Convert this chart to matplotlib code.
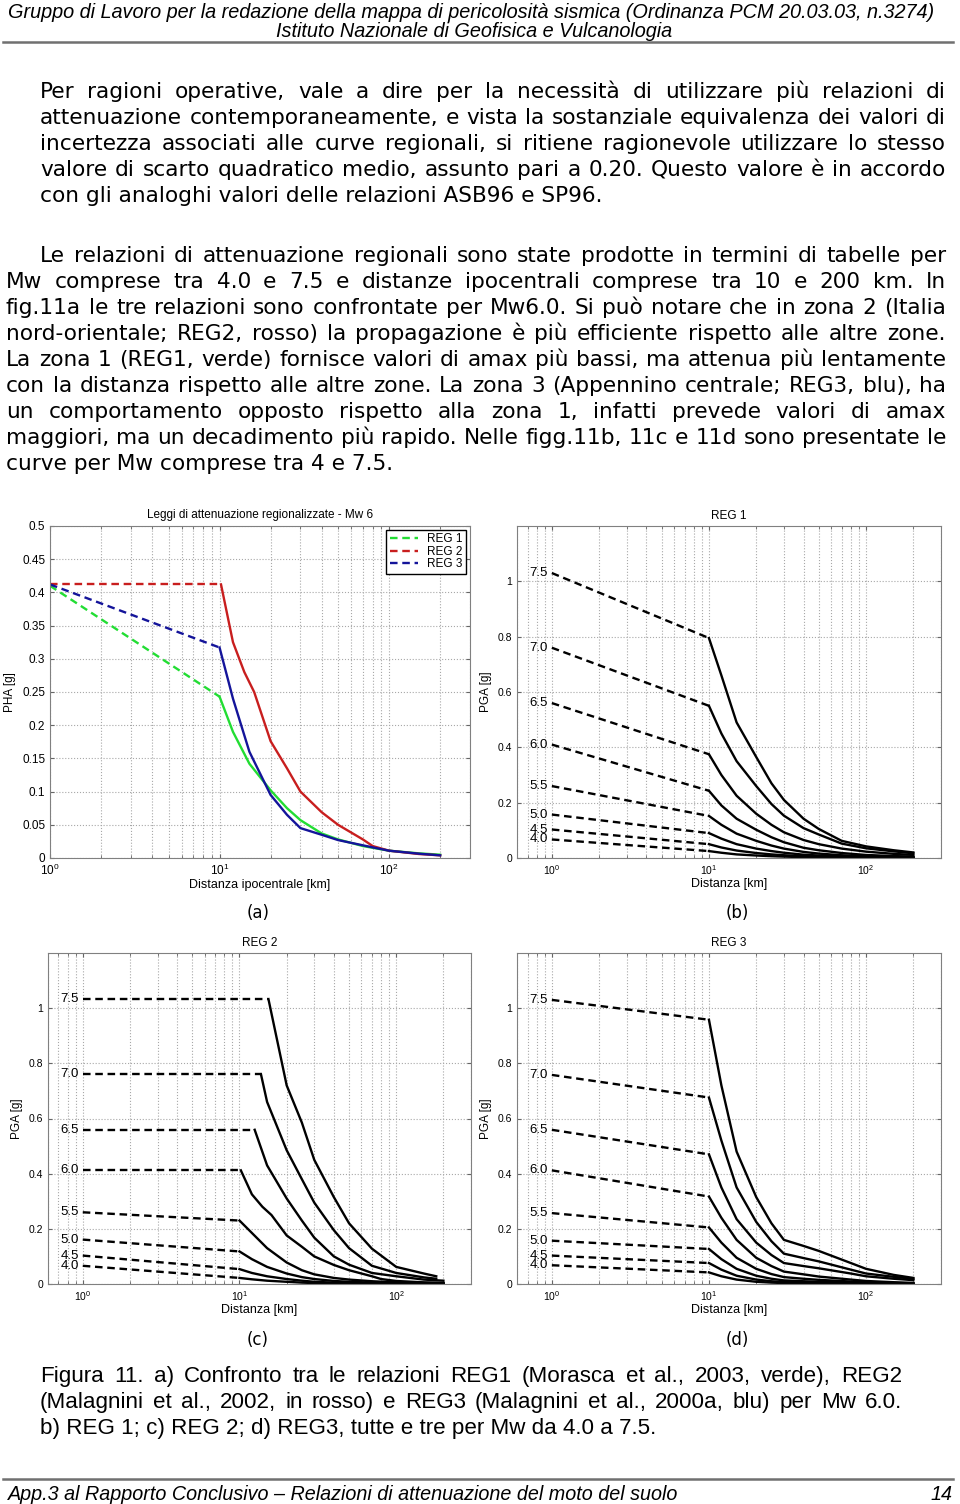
import matplotlib
matplotlib.use("Agg")
import matplotlib.pyplot as plt
import numpy as np
from matplotlib import font_manager
from matplotlib.ticker import LogLocator, NullFormatter

# ---------------- dati ----------------
MAGS = ["7.5", "7.0", "6.5", "6.0", "5.5", "5.0", "4.5", "4.0"]

# REG 1 (Morasca et al.)
REG1_START = [1.03, 0.76, 0.56, 0.41, 0.26, 0.157, 0.103, 0.067]
REG1_DIST = [10, 12, 15, 20, 25, 30, 40, 50, 70, 100, 150, 200]
REG1_VALS = [
    [0.795, 0.66, 0.49, 0.365, 0.27, 0.21, 0.142, 0.105, 0.062, 0.042, 0.028, 0.02],
    [0.55, 0.45, 0.35, 0.26, 0.195, 0.153, 0.108, 0.085, 0.052, 0.035, 0.024, 0.017],
    [0.375, 0.30, 0.225, 0.16, 0.12, 0.093, 0.065, 0.05, 0.034, 0.023, 0.015, 0.011],
    [0.243, 0.19, 0.142, 0.102, 0.075, 0.057, 0.037, 0.028, 0.018, 0.011, 0.007, 0.005],
    [0.152, 0.12, 0.088, 0.062, 0.045, 0.034, 0.022, 0.016, 0.01, 0.006, 0.004, 0.003],
    [0.09, 0.07, 0.05, 0.034, 0.025, 0.019, 0.012, 0.009, 0.006, 0.0035, 0.0023, 0.0017],
    [0.05, 0.038, 0.027, 0.018, 0.013, 0.01, 0.0065, 0.0047, 0.003, 0.0019, 0.0012, 0.0009],
    [0.025, 0.019, 0.013, 0.009, 0.0065, 0.005, 0.0032, 0.0023, 0.0015, 0.0009, 0.0006, 0.0004],
]

# REG 2 (Malagnini et al., 2002) - tratto piatto fino a distanza variabile
REG2_START = [1.033, 0.761, 0.559, 0.412, 0.26, 0.161, 0.103, 0.066]
REG2_DIST = [
    [15.3, 20, 25, 30, 40, 50, 70, 100, 150, 180],
    [13.7, 15, 20, 25, 30, 40, 50, 70, 100, 150, 180],
    [12.5, 15, 20, 25, 30, 40, 50, 70, 100, 150, 200],
    [10.2, 12, 14, 16, 20, 25, 30, 40, 50, 70, 80, 100, 150, 200],
    [10, 12, 15, 20, 25, 30, 40, 50, 70, 100, 150, 200],
    [10, 12, 15, 20, 25, 30, 40, 50, 70, 100, 150, 200],
    [10, 12, 15, 20, 25, 30, 40, 50, 70, 100, 150, 200],
    [10, 12, 15, 20, 25, 30, 40, 50, 70, 100, 150, 200],
]
REG2_VALS = [
    [1.033, 0.72, 0.585, 0.45, 0.315, 0.22, 0.128, 0.062, 0.038, 0.028],
    [0.761, 0.66, 0.485, 0.38, 0.295, 0.195, 0.13, 0.066, 0.04, 0.024, 0.019],
    [0.559, 0.43, 0.31, 0.23, 0.168, 0.1, 0.07, 0.04, 0.028, 0.016, 0.012],
    [0.412, 0.325, 0.28, 0.25, 0.176, 0.135, 0.10, 0.069, 0.05, 0.028, 0.018, 0.011, 0.006, 0.004],
    [0.23, 0.185, 0.13, 0.078, 0.05, 0.035, 0.022, 0.016, 0.01, 0.006, 0.004, 0.003],
    [0.118, 0.09, 0.062, 0.038, 0.025, 0.018, 0.011, 0.008, 0.005, 0.003, 0.002, 0.0015],
    [0.054, 0.04, 0.028, 0.018, 0.012, 0.008, 0.005, 0.0035, 0.0022, 0.0014, 0.001, 0.0007],
    [0.022, 0.017, 0.012, 0.008, 0.005, 0.0035, 0.0025, 0.0018, 0.0012, 0.0008, 0.0005, 0.0004],
]

# REG 3 (Malagnini et al., 2000a)
REG3_START = [1.03, 0.758, 0.559, 0.412, 0.257, 0.157, 0.103, 0.068]
REG3_DIST = [10, 12, 15, 20, 25, 30, 40, 50, 80, 100, 150, 200]
REG3_VALS = [
    [0.958, 0.72, 0.48, 0.315, 0.22, 0.16, 0.138, 0.12, 0.076, 0.055, 0.033, 0.022],
    [0.676, 0.52, 0.35, 0.225, 0.155, 0.11, 0.094, 0.082, 0.052, 0.038, 0.026, 0.019],
    [0.47, 0.35, 0.235, 0.15, 0.105, 0.076, 0.065, 0.057, 0.038, 0.028, 0.019, 0.014],
    [0.317, 0.24, 0.16, 0.095, 0.065, 0.045, 0.035, 0.027, 0.016, 0.011, 0.0065, 0.004],
    [0.205, 0.15, 0.095, 0.055, 0.036, 0.025, 0.019, 0.015, 0.009, 0.006, 0.0035, 0.0025],
    [0.127, 0.09, 0.055, 0.03, 0.019, 0.013, 0.01, 0.008, 0.0045, 0.003, 0.0018, 0.0012],
    [0.076, 0.052, 0.03, 0.016, 0.01, 0.007, 0.005, 0.004, 0.0022, 0.0015, 0.0009, 0.0006],
    [0.042, 0.028, 0.016, 0.008, 0.005, 0.0035, 0.0025, 0.002, 0.001, 0.0007, 0.0004, 0.0003],
]

YTICKS_A = [0, 0.05, 0.1, 0.15, 0.2, 0.25, 0.3, 0.35, 0.4, 0.45, 0.5]
YLABELS_A = ["0", "0.05", "0.1", "0.15", "0.2", "0.25", "0.3", "0.35", "0.4", "0.45", "0.5"]
YTICKS_B = [0, 0.2, 0.4, 0.6, 0.8, 1.0]
YLABELS_B = ["0", "0.2", "0.4", "0.6", "0.8", "1"]

# ---------------- testi ----------------
HEADER = ["Gruppo di Lavoro per la redazione della mappa di pericolosità sismica (Ordinanza PCM 20.03.03, n.3274)",
          "Istituto Nazionale di Geofisica e Vulcanologia"]
PARA1 = ["Per ragioni operative, vale a dire per la necessità di utilizzare più relazioni di",
         "attenuazione contemporaneamente, e vista la sostanziale equivalenza dei valori di",
         "incertezza associati alle curve regionali, si ritiene ragionevole utilizzare lo stesso",
         "valore di scarto quadratico medio, assunto pari a 0.20. Questo valore è in accordo",
         "con gli analoghi valori delle relazioni ASB96 e SP96."]
PARA2 = ["Le relazioni di attenuazione regionali sono state prodotte in termini di tabelle per",
         "Mw comprese tra 4.0 e 7.5 e distanze ipocentrali comprese tra 10 e 200 km. In",
         "fig.11a le tre relazioni sono confrontate per Mw6.0. Si può notare che in zona 2 (Italia",
         "nord-orientale; REG2, rosso) la propagazione è più efficiente rispetto alle altre zone.",
         "La zona 1 (REG1, verde) fornisce valori di amax più bassi, ma attenua più lentamente",
         "con la distanza rispetto alle altre zone. La zona 3 (Appennino centrale; REG3, blu), ha",
         "un comportamento opposto rispetto alla zona 1, infatti prevede valori di amax",
         "maggiori, ma un decadimento più rapido. Nelle figg.11b, 11c e 11d sono presentate le",
         "curve per Mw comprese tra 4 e 7.5."]
CAPTION = ["Figura 11. a) Confronto tra le relazioni REG1 (Morasca et al., 2003, verde), REG2",
           "(Malagnini et al., 2002, in rosso) e REG3 (Malagnini et al., 2000a, blu) per Mw 6.0.",
           "b) REG 1; c) REG 2; d) REG3, tutte e tre per Mw da 4.0 a 7.5."]
FOOTER = "App.3 al Rapporto Conclusivo \u2013 Relazioni di attenuazione del moto del suolo"

# ---------------- impostazioni ----------------
W, H = 960, 1504
installed = {f.name for f in font_manager.fontManager.ttflist}
NARROW = "Liberation Sans" if "Liberation Sans" in installed else "DejaVu Sans"
PLOTFONT = "Liberation Sans" if "Liberation Sans" in installed else "DejaVu Sans"
plt.rcParams["mathtext.default"] = "regular"
plt.rcParams["font.family"] = [PLOTFONT, "DejaVu Sans"]

fig = plt.figure(figsize=(W / 100, H / 100), dpi=100)
renderer = fig.canvas.get_renderer()


def fx(x):
    return x / W


def fy(y):
    return 1 - y / H


def text_width(s, **kw):
    t = fig.text(0, 0, s, **kw)
    w = t.get_window_extent(renderer).width
    t.remove()
    return w


def put_line(s, x0, x1, y, justify, **kw):
    if not justify:
        fig.text(fx(x0), fy(y), s, va="baseline", ha="left", **kw)
        return
    words = s.split(" ")
    widths = [text_width(w, **kw) for w in words]
    gap = (x1 - x0 - sum(widths)) / (len(words) - 1)
    x = x0
    for w, wd in zip(words, widths):
        fig.text(fx(x), fy(y), w, va="baseline", ha="left", **kw)
        x += wd + gap


def fit_size(s, target, **kw):
    w = text_width(s, fontsize=10, **kw)
    return 10 * target / w


# intestazione
hkw = dict(family=[NARROW, "DejaVu Sans"], style="italic")
hs = fit_size(HEADER[0], 932, **hkw)
fig.text(fx(471), fy(18), HEADER[0], ha="center", va="baseline", fontsize=hs, **hkw)
fig.text(fx(474), fy(37), HEADER[1], ha="center", va="baseline", fontsize=hs, **hkw)
fig.add_artist(plt.Line2D([fx(3), fx(953)], [fy(42), fy(42)], color="#707070", lw=1.8))

# testo
bs = fit_size(PARA1[-1], 564, family="DejaVu Sans")
bkw = dict(family="DejaVu Sans", fontsize=bs)
for i, line in enumerate(PARA1):
    put_line(line, 40, 946, 98 + 26 * i, i < len(PARA1) - 1, **bkw)
for i, line in enumerate(PARA2):
    x0 = 40 if i == 0 else 6
    put_line(line, x0, 946, 262 + 26 * i, i < len(PARA2) - 1, **bkw)

# ---------------- grafici ----------------
GRID = dict(ls=":", color="#a8a8a8", lw=0.8)


def style_axes(ax, xlim, ylim, yticks, ylabels, fs):
    ax.set_xscale("log")
    ax.set_xlim(xlim)
    ax.set_ylim(ylim)
    ax.set_yticks(yticks)
    ax.set_yticklabels(ylabels)
    ax.xaxis.set_major_locator(LogLocator(base=10, numticks=10))
    ax.xaxis.set_minor_locator(LogLocator(base=10, subs=np.arange(2, 10), numticks=10))
    ax.xaxis.set_minor_formatter(NullFormatter())
    ax.grid(True, which="both", axis="x", **GRID)
    ax.grid(True, which="major", axis="y", **GRID)
    ax.tick_params(which="both", direction="in", top=True, right=True,
                   labelsize=fs, color="#666666", length=3)
    ax.tick_params(which="minor", length=2)
    for s in ax.spines.values():
        s.set_color("#808080")
        s.set_linewidth(0.8)


LW = 1.7
DASH = (3.2, 2.0)

# (a)
axa = fig.add_axes([fx(50), fy(858), 420 / W, 332 / H])
style_axes(axa, (1, 300), (0, 0.5), YTICKS_A, YLABELS_A, 8.5)
series_a = [("REG 1", "#22dd33", REG1_START[3], REG1_DIST, REG1_VALS[3]),
            ("REG 2", "#c81e1e", REG2_START[3], REG2_DIST[3], REG2_VALS[3]),
            ("REG 3", "#14149a", REG3_START[3], REG3_DIST, REG3_VALS[3])]
for name, col, st, d, v in series_a:
    axa.plot([1, d[0]], [st, v[0]], color=col, lw=LW, dashes=DASH, label=name)
for name, col, st, d, v in series_a:
    axa.plot(d, v, color=col, lw=LW)
axa.set_title("Leggi di attenuazione regionalizzate - Mw 6", fontsize=8.5, pad=6)
axa.set_xlabel("Distanza ipocentrale [km]", fontsize=9, labelpad=1)
axa.set_ylabel("PHA [g]", fontsize=8.5, labelpad=4)
axa.legend(loc="upper right", fontsize=8.5, fancybox=False, edgecolor="black",
           framealpha=1, borderaxespad=0.3, handlelength=2.4, labelspacing=0.05,
           borderpad=0.3)


def plot_family(ax, starts, dists, vals, title):
    style_axes(ax, (0.6, 300), (0, 1.2), YTICKS_B, YLABELS_B, 7.5)
    for k, m in enumerate(MAGS):
        d = dists[k]
        v = vals[k]
        ax.plot([1, d[0]], [starts[k], v[0]], color="black", lw=LW, dashes=DASH)
        ax.plot(d, v, color="black", lw=LW)
        ax.annotate(m, xy=(1, starts[k]), xytext=(-3, 0), textcoords="offset points",
                    ha="right", va="center", fontsize=9.5)
    ax.set_title(title, fontsize=8.5, pad=5)
    ax.set_xlabel("Distanza [km]", fontsize=9, labelpad=1)
    ax.set_ylabel("PGA [g]", fontsize=8.5, labelpad=4)


axb = fig.add_axes([fx(517), fy(858), 424 / W, 332 / H])
plot_family(axb, REG1_START, [REG1_DIST] * 8, REG1_VALS, "REG 1")
axc = fig.add_axes([fx(48), fy(1284), 423 / W, 331 / H])
plot_family(axc, REG2_START, REG2_DIST, REG2_VALS, "REG 2")
axd = fig.add_axes([fx(517), fy(1284), 424 / W, 331 / H])
plot_family(axd, REG3_START, [REG3_DIST] * 8, REG3_VALS, "REG 3")

for lab, x, y in [("(a)", 258, 913), ("(b)", 737, 913), ("(c)", 258, 1340), ("(d)", 737, 1340)]:
    fig.text(fx(x), fy(y), lab, ha="center", va="center", family="DejaVu Sans", fontsize=12)

# didascalia
ckw = dict(family=[NARROW, "DejaVu Sans"])
cs = fit_size(CAPTION[2], 615, **ckw)
for i, line in enumerate(CAPTION):
    put_line(line, 40, 902, 1382 + 26 * i, i < 2, fontsize=cs, **ckw)

# piè di pagina
fig.add_artist(plt.Line2D([fx(3), fx(953)], [fy(1479), fy(1479)], color="#707070", lw=1.8))
fs_foot = fit_size(FOOTER, 674, **hkw)
fig.text(fx(8), fy(1500), FOOTER, ha="left", va="baseline", fontsize=fs_foot, **hkw)
fig.text(fx(952), fy(1500), "14", ha="right", va="baseline", fontsize=fs_foot, **hkw)

fig.savefig("out.png", dpi=100)
